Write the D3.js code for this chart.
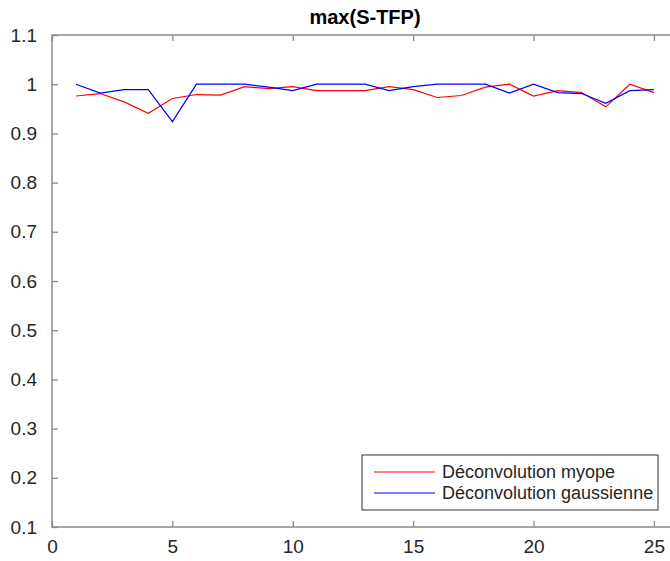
<!DOCTYPE html>
<html><head><meta charset="utf-8">
<script src="https://cdn.jsdelivr.net/npm/d3@7"></script>
<style>body{margin:0;background:#fff;} svg{display:block;}</style>
</head><body>
<script>
const xValues = [1,2,3,4,5,6,7,8,9,10,11,12,13,14,15,16,17,18,19,20,21,22,23,24,25];
const myope = [0.976,0.981,0.964,0.941,0.971,0.979,0.978,0.995,0.991,0.995,0.987,0.987,0.987,0.995,0.989,0.973,0.977,0.994,1.0,0.976,0.987,0.983,0.954,1.0,0.983];
const gauss = [1.0,0.982,0.989,0.989,0.924,1.0,1.0,1.0,0.994,0.987,1.0,1.0,1.0,0.987,0.995,1.0,1.0,1.0,0.982,1.0,0.983,0.981,0.961,0.987,0.989];
const xTicks = [0,5,10,15,20,25];
const yTicks = [0.1,0.2,0.3,0.4,0.5,0.6,0.7,0.8,0.9,1.0,1.1];
const seriesNames = ["Déconvolution myope","Déconvolution gaussienne"];
const seriesColors = ["#ff0000","#0000ff"];
const title = "max(S-TFP)";

const W=670,H=561;
const mLeft=52,mRight=678,mTop=35,mBottom=527;
const svg=d3.select("body").append("svg").attr("width",W).attr("height",H);
const x=d3.scaleLinear().domain([0,26]).range([mLeft,mRight]);
const y=d3.scaleLinear().domain([0.1,1.1]).range([mBottom,mTop]);
const axisColor="#8a8a8a", textColor="#262626";
const font="Liberation Sans, Arial, Helvetica, sans-serif";

// box
svg.append("rect").attr("x",mLeft).attr("y",mTop).attr("width",mRight-mLeft).attr("height",mBottom-mTop)
  .attr("fill","none").attr("stroke",axisColor).attr("stroke-width",1.5);

// axes
const xb=svg.append("g").attr("transform",`translate(0,${mBottom})`)
  .call(d3.axisBottom(x).tickValues(xTicks).tickSize(-6).tickPadding(13).tickFormat(d3.format("d")));
const xt=svg.append("g").attr("transform",`translate(0,${mTop})`)
  .call(d3.axisTop(x).tickValues(xTicks).tickSize(-6).tickFormat(""));
const yl=svg.append("g").attr("transform",`translate(${mLeft},0)`)
  .call(d3.axisLeft(y).tickValues(yTicks).tickSize(-6).tickPadding(15).tickFormat(d=>String(+d.toFixed(1))));
[xb,xt,yl].forEach(g=>{
  g.select(".domain").remove();
  g.selectAll(".tick line").attr("stroke",axisColor).attr("stroke-width",1.3);
  g.selectAll(".tick text").attr("fill",textColor).style("font-family",font).style("font-size","19px");
});

// lines
const line=d3.line().x((d,i)=>x(xValues[i])).y(d=>y(d));
[myope,gauss].forEach((s,k)=>{
  svg.append("path").datum(s).attr("d",line).attr("fill","none")
    .attr("stroke",seriesColors[k]).attr("stroke-width",1.2);
});

// title
svg.append("text").attr("x",(mLeft+mRight)/2).attr("y",24).attr("text-anchor","middle")
  .style("font-family",font).style("font-size","20px").style("font-weight","bold").attr("fill","#000").text(title);

// legend
const lg=svg.append("g");
lg.append("rect").attr("x",362).attr("y",455).attr("width",296).attr("height",55)
  .attr("fill","#fff").attr("stroke","#333").attr("stroke-width",1);
seriesNames.forEach((n,i)=>{
  const yy=472+i*21;
  lg.append("line").attr("x1",374).attr("x2",435).attr("y1",yy).attr("y2",yy).attr("stroke",seriesColors[i]).attr("stroke-width",1.2);
  lg.append("text").attr("x",442).attr("y",yy+6).attr("fill",textColor)
    .style("font-family",font).style("font-size","18px").text(n);
});
</script>
</body></html>
